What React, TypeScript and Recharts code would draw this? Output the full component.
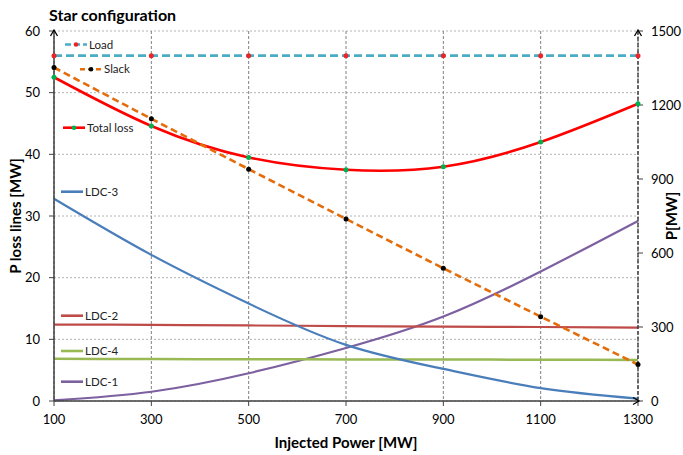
import React from 'react'
import { LineChart, Line, XAxis, YAxis, CartesianGrid, Label } from 'recharts'

// values, one point every 200 MW
const injected = [100, 300, 500, 700, 900, 1100, 1300]
const load = [1400, 1400, 1400, 1400, 1400, 1400, 1400]
const slack = [1352, 1144, 940, 738, 538, 342, 148]
const totalLoss = [52.5, 44.6, 39.5, 37.5, 38.0, 42.0, 48.2]
const ldc3 = [32.8, 23.7, 15.8, 9.1, 5.2, 2.1, 0.4]
const ldc2 = [12.4, 12.35, 12.25, 12.15, 12.05, 12.0, 11.9]
const ldc4 = [6.85, 6.8, 6.78, 6.75, 6.72, 6.7, 6.65]
const ldc1 = [0.1, 1.5, 4.5, 8.6, 13.7, 21.0, 29.2]

const leftTicks = [0, 10, 20, 30, 40, 50, 60]
const rightTicks = [0, 300, 600, 900, 1200, 1500]

const data = injected.map((x, i) => ({
  x,
  load: load[i],
  slack: slack[i],
  totalLoss: totalLoss[i],
  ldc3: ldc3[i],
  ldc2: ldc2[i],
  ldc4: ldc4[i],
  ldc1: ldc1[i],
}))

const FONT = 'Lato, "Open Sans", sans-serif'

const C = {
  load: '#4bacc6',
  loadDot: '#e8262a',
  slack: '#e46c0a',
  slackDot: '#000000',
  total: '#ff0000',
  totalDot: '#00b050',
  ldc3: '#4a7ebb',
  ldc2: '#be4b48',
  ldc4: '#98b954',
  ldc1: '#7d60a0',
}

// inline legend, placed like the original Excel labels
const legendItems = [
  { name: 'Load', color: C.load, dash: '6 3', dot: C.loadDot, x: 65, y: 44.5 },
  { name: 'Slack', color: C.slack, dash: '5 3', dot: C.slackDot, x: 80, y: 69.3 },
  { name: 'Total loss', color: C.total, dash: undefined, dot: C.totalDot, x: 63, y: 127.7 },
  { name: 'LDC-3', color: C.ldc3, dash: undefined, dot: undefined, x: 61, y: 191.7 },
  { name: 'LDC-2', color: C.ldc2, dash: undefined, dot: undefined, x: 61, y: 315.7 },
  { name: 'LDC-4', color: C.ldc4, dash: undefined, dot: undefined, x: 61, y: 351 },
  { name: 'LDC-1', color: C.ldc1, dash: undefined, dot: undefined, x: 61, y: 381.7 },
]

const tickStyle = { fill: '#000', fontSize: 13, fontFamily: FONT }
const axisTitle = { fontSize: 15, fontWeight: 700, fill: '#000', fontFamily: FONT, textAnchor: 'middle' as const }

// small open arrow heads at the axis ends
const Arrow = ({ x, y, dir }: { x: number; y: number; dir: 'up' | 'right' }) =>
  dir === 'up' ? (
    <path d={`M${x - 3.5},${y + 6} L${x},${y} L${x + 3.5},${y + 6}`} fill="none" stroke="#000" strokeWidth={1.3} />
  ) : (
    <path d={`M${x - 6},${y - 3.5} L${x},${y} L${x - 6},${y + 3.5}`} fill="none" stroke="#000" strokeWidth={1.3} />
  )

export default function App() {
  return (
    <div style={{ position: 'absolute', left: 0, top: 0, width: 683, height: 455, background: '#fff' }}>
      <LineChart
        width={683}
        height={455}
        data={data}
        margin={{ top: 31, right: 0, bottom: 0, left: 0 }}
        style={{ fontFamily: FONT }}
      >
        <CartesianGrid yAxisId="left" vertical={false} stroke="#b4b4b4" strokeDasharray="2 2" />
        <CartesianGrid yAxisId="left" horizontal={false} stroke="#808080" strokeDasharray="3 2" />
        <XAxis
          dataKey="x"
          type="number"
          domain={[100, 1300]}
          ticks={injected}
          height={54}
          tickSize={5}
          tickMargin={9}
          tick={tickStyle}
          tickLine={{ stroke: '#404040' }}
          axisLine={{ stroke: '#404040', strokeWidth: 1.5 }}
        >
          <Label value="Injected Power [MW]" position="insideBottom" offset={7} style={axisTitle} />
        </XAxis>
        <YAxis
          yAxisId="left"
          domain={[0, 60]}
          ticks={leftTicks}
          width={54}
          tickSize={5}
          tickMargin={9}
          tick={tickStyle}
          tickLine={{ stroke: '#404040' }}
          axisLine={{ stroke: '#404040', strokeWidth: 1.5 }}
        >
          <Label value="P loss lines [MW]" angle={-90} position="insideLeft" offset={16} style={axisTitle} />
        </YAxis>
        <YAxis
          yAxisId="right"
          orientation="right"
          domain={[0, 1500]}
          ticks={rightTicks}
          width={45}
          tickSize={5}
          tickMargin={8}
          tick={{ ...tickStyle, textAnchor: 'start' }}
          tickLine={{ stroke: '#404040' }}
          axisLine={{ stroke: '#303030', strokeWidth: 1.3, strokeDasharray: '4 2' }}
        >
          <Label value="P[MW]" angle={-90} position="insideRight" offset={11} style={axisTitle} />
        </YAxis>

        <Line yAxisId="left" dataKey="ldc1" type="natural" stroke={C.ldc1} strokeWidth={2.2} dot={false} activeDot={false} isAnimationActive={false} />
        <Line yAxisId="left" dataKey="ldc4" type="natural" stroke={C.ldc4} strokeWidth={2.5} dot={false} activeDot={false} isAnimationActive={false} />
        <Line yAxisId="left" dataKey="ldc2" type="natural" stroke={C.ldc2} strokeWidth={2.2} dot={false} activeDot={false} isAnimationActive={false} />
        <Line yAxisId="left" dataKey="ldc3" type="natural" stroke={C.ldc3} strokeWidth={2.2} dot={false} activeDot={false} isAnimationActive={false} />
        <Line
          yAxisId="left"
          dataKey="totalLoss"
          type="natural"
          stroke={C.total}
          strokeWidth={2.6}
          dot={{ r: 2.5, fill: C.totalDot, stroke: 'none' }}
          activeDot={false}
          isAnimationActive={false}
        />
        <Line
          yAxisId="right"
          dataKey="slack"
          type="linear"
          stroke={C.slack}
          strokeWidth={2.6}
          strokeDasharray="7 4"
          dot={{ r: 2.5, fill: C.slackDot, stroke: 'none' }}
          activeDot={false}
          isAnimationActive={false}
        />
        <Line
          yAxisId="right"
          dataKey="load"
          type="linear"
          stroke={C.load}
          strokeWidth={2.6}
          strokeDasharray="8 4"
          dot={{ r: 2.5, fill: C.loadDot, stroke: 'none' }}
          activeDot={false}
          isAnimationActive={false}
        />
      </LineChart>

      <svg
        width={683}
        height={455}
        style={{ position: 'absolute', left: 0, top: 0, pointerEvents: 'none', fontFamily: FONT }}
      >
        <text x={49} y={21} fontSize={16} fontWeight={700} fill="#000">
          Star configuration
        </text>
        <Arrow x={54} y={30} dir="up" />
        <Arrow x={638} y={30} dir="up" />
        <Arrow x={639} y={401} dir="right" />
        {legendItems.map((it) => (
          <g key={it.name}>
            <line x1={it.x} y1={it.y} x2={it.x + 22} y2={it.y} stroke={it.color} strokeWidth={2.6} strokeDasharray={it.dash} />
            {it.dot && <circle cx={it.x + 11} cy={it.y} r={2.3} fill={it.dot} />}
            <text x={it.x + 24} y={it.y} dy="0.35em" fontSize={11.5} fill="#222">
              {it.name}
            </text>
          </g>
        ))}
      </svg>
    </div>
  )
}
